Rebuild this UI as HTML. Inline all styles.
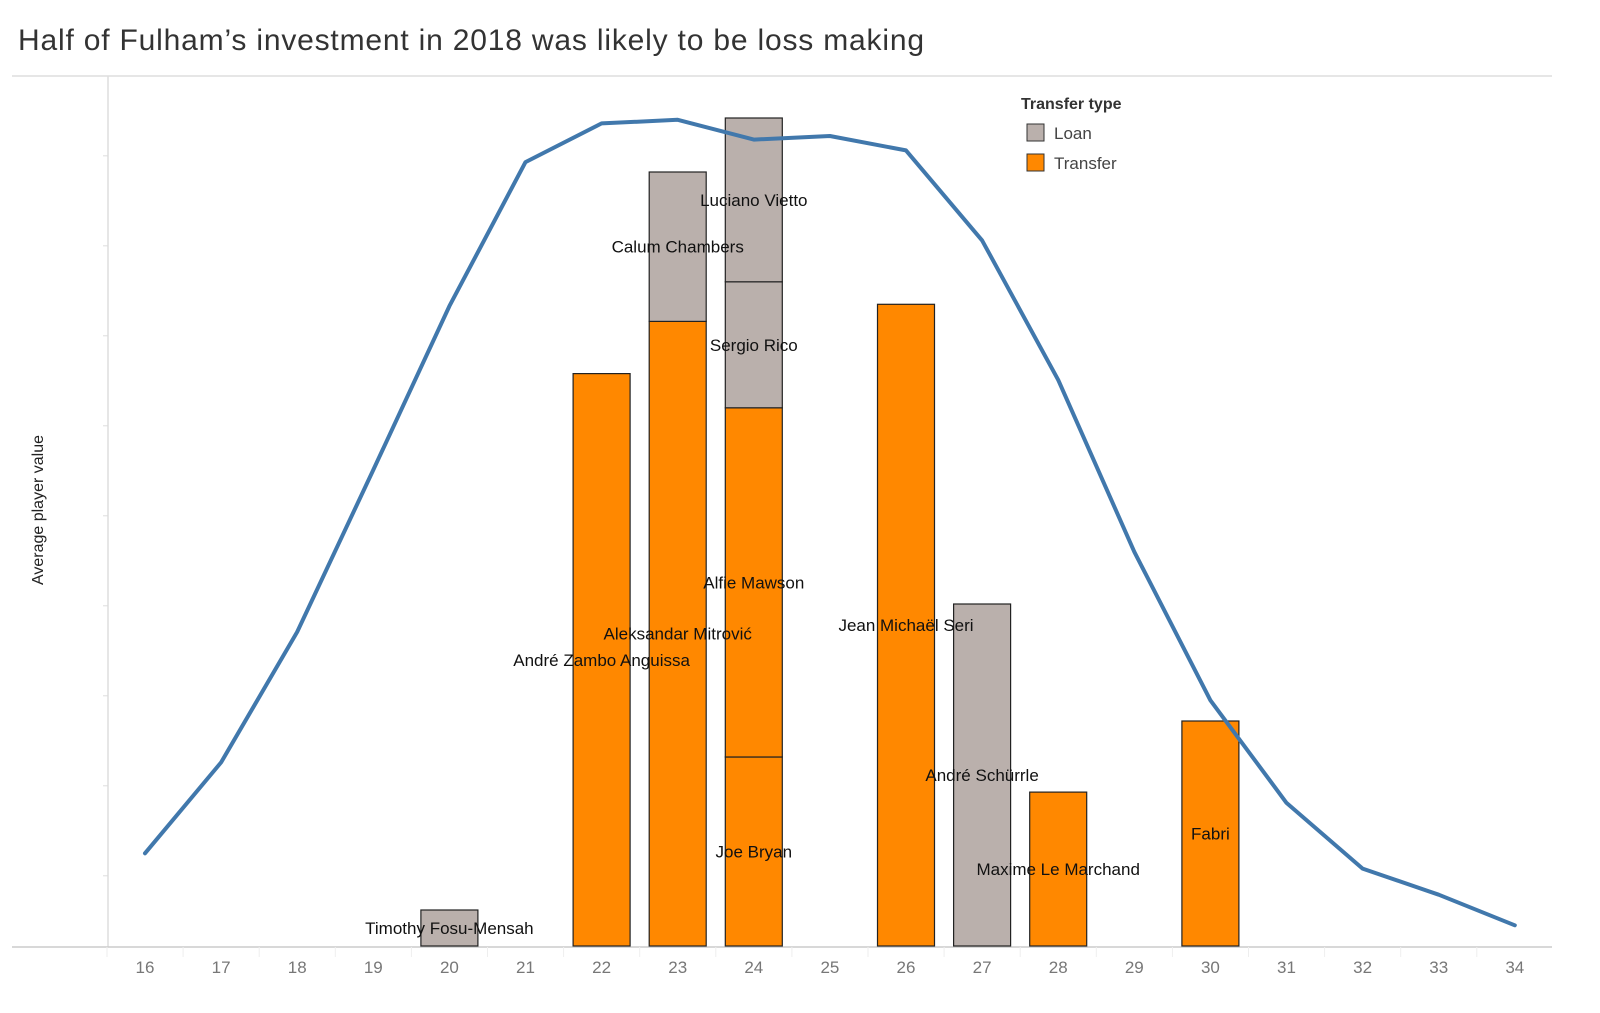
<!DOCTYPE html>
<html><head><meta charset="utf-8"><style>
body{margin:0;background:#fff;font-family:"Liberation Sans","DejaVu Sans",sans-serif}
</style></head><body>
<svg id="c" width="1600" height="1008" xmlns="http://www.w3.org/2000/svg">
<text x="18" y="50" font-size="30" fill="#333" textLength="906" lengthAdjust="spacing">Half of Fulham’s investment in 2018 was likely to be loss making</text>
<line x1="12" y1="76" x2="1552" y2="76" stroke="#e6e6e6" stroke-width="2"/>
<line x1="108" y1="76" x2="108" y2="947" stroke="#ddd" stroke-width="1.5"/>
<line x1="12" y1="947" x2="1552" y2="947" stroke="#ccc" stroke-width="1.5"/>
<text transform="translate(43,510) rotate(-90)" text-anchor="middle" font-size="16" fill="#222">Average player value</text>
<g id="ticks"></g><g id="bars"></g><g id="line"></g><g id="labels"></g>
<g>
<text x="1021" y="109" font-size="16" font-weight="bold" fill="#333">Transfer type</text>
<rect x="1027" y="124" width="17" height="17" fill="#bab0ac" stroke="#333"/>
<text x="1054" y="139" font-size="17" fill="#444">Loan</text>
<rect x="1027" y="154" width="17" height="17" fill="#ff8800" stroke="#333"/>
<text x="1054" y="169" font-size="17" fill="#444">Transfer</text>
</g>
</svg>
<script>
const ages=[16,17,18,19,20,21,22,23,24,25,26,27,28,29,30,31,32,33,34];
const avgValue=[1.03,2.04,3.49,5.29,7.11,8.71,9.14,9.18,8.96,9.0,8.84,7.84,6.29,4.38,2.73,1.59,0.86,0.57,0.23];
const barAges=[20,22,23,23,24,24,24,24,26,27,28,30];
const barPlayers=["Timothy Fosu-Mensah","André Zambo Anguissa","Aleksandar Mitrović","Calum Chambers","Joe Bryan","Alfie Mawson","Sergio Rico","Luciano Vietto","Jean Michaël Seri","André Schürrle","Maxime Le Marchand","Fabri"];
const barTypes=["Loan","Transfer","Transfer","Loan","Transfer","Transfer","Loan","Loan","Transfer","Loan","Transfer","Transfer"];
const barValues=[0.4,6.36,6.94,1.66,2.1,3.88,1.4,1.82,7.13,3.8,1.71,2.5];
const yTicks=[0.78,1.78,2.78,3.78,4.78,5.78,6.78,7.78,8.78];
const NS="http://www.w3.org/2000/svg";
const x=a=>145+(a-16)*76.1;
const y=v=>946-v*90;
function mk(t,at,p){const e=document.createElementNS(NS,t);for(const k in at)e.setAttribute(k,at[k]);document.getElementById(p).appendChild(e);return e;}
yTicks.forEach(v=>{const t=mk('line',{x1:103,x2:108,y1:y(v),y2:y(v),stroke:'#ddd'},'ticks');

});
ages.forEach(a=>{const s=mk('line',{x1:x(a)-38,x2:x(a)-38,y1:947,y2:957,stroke:'#eee'},'ticks');


const t=mk('text',{x:x(a),y:973,'text-anchor':'middle','font-size':17,fill:'#777'},'ticks');t.textContent=a;

});
const base={};
barAges.forEach((a,i)=>{const b=base[a]||0,top=b+barValues[i];base[a]=top;
const r=mk('rect',{x:x(a)-28.5,y:y(top),width:57,height:y(b)-y(top),fill:barTypes[i]=='Loan'?'#bab0ac':'#ff8800',stroke:'#222','stroke-width':1.2},'bars');


const t=mk('text',{x:x(a),y:(y(b)+y(top))/2+6,'text-anchor':'middle','font-size':17,fill:'#111'},'labels');t.textContent=barPlayers[i];

});
const p=mk('polyline',{points:ages.map((a,i)=>x(a)+','+y(avgValue[i])).join(' '),fill:'none',stroke:'#4178ac','stroke-width':4,'stroke-linejoin':'round','stroke-linecap':'round'},'line');


</script>
</body></html>
